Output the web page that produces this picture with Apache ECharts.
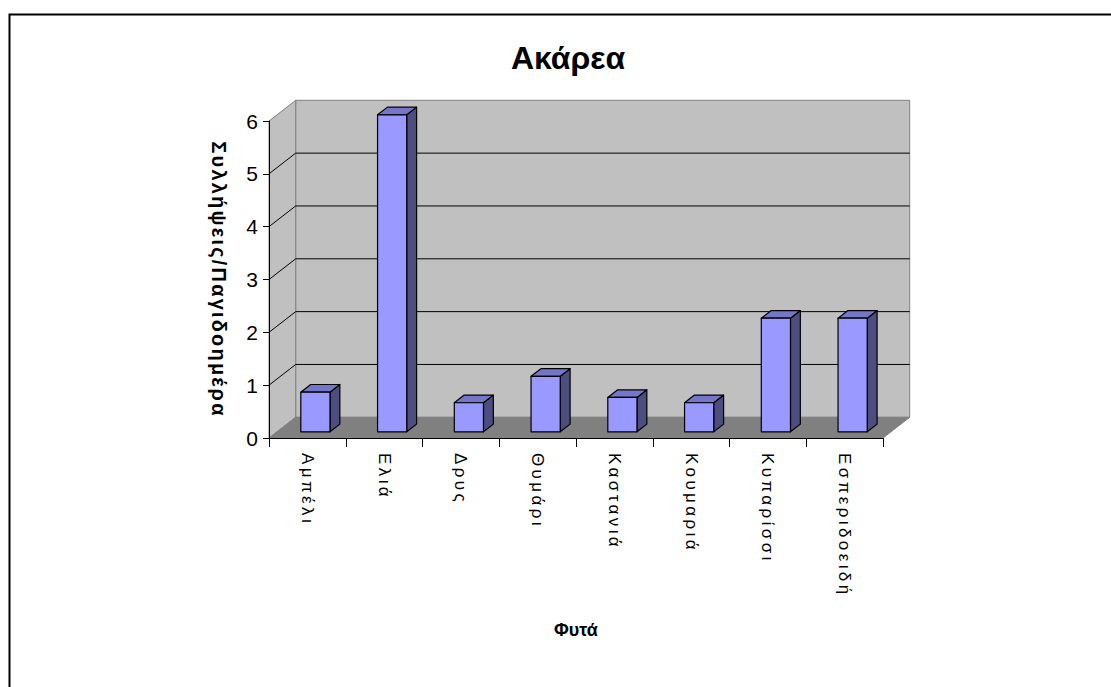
<!DOCTYPE html>
<html>
<head>
<meta charset="utf-8">
<title>Ακάρεα</title>
<script src="https://cdn.jsdelivr.net/npm/echarts@6/dist/echarts.min.js"></script>
<style>
  html, body { margin: 0; padding: 0; background: #ffffff; }
  #chart { width: 1111px; height: 687px; }
  /* wide tracking for the category labels and the value-axis title */
  #chart text[style*="Liberation Sans"]:not([style*="Arimo"]) { letter-spacing: 3.4px; }
  #chart text[style*="Arimo"] { letter-spacing: 2.2px; }
</style>
</head>
<body>
<div id="chart"></div>
<script>
// Plants sampled and mite captures per trap-day
const categories = ['Αμπέλι', 'Ελιά', 'Δρυς', 'Θυμάρι', 'Καστανιά', 'Κουμαριά', 'Κυπαρίσσι', 'Εσπεριδοειδή'];
const values = [0.75, 6, 0.55, 1.05, 0.65, 0.55, 2.15, 2.15];
const yTicks = [0, 1, 2, 3, 4, 5, 6];

// depth of the 3D box in pixels
const DX = 26.7, DY = -20.7;
// bar placement inside the depth (fractions of the box depth)
const BAR_D0 = 0.3, BAR_D1 = 0.67, BAR_W = 0.38;

const chart = echarts.init(document.getElementById('chart'), null, { renderer: 'svg' });

function renderWalls(params, api) {
  const cs = params.coordSys;
  const x0 = cs.x, x1 = cs.x + cs.width;
  const yTop = cs.y, yBot = cs.y + cs.height;
  const children = [];
  // back wall
  children.push({
    type: 'rect',
    shape: { x: x0 + DX, y: yTop + DY, width: cs.width, height: cs.height },
    style: { fill: '#c0c0c0', stroke: '#808080', lineWidth: 1 }
  });
  // left side wall
  children.push({
    type: 'polygon',
    shape: { points: [[x0, yTop], [x0 + DX, yTop + DY], [x0 + DX, yBot + DY], [x0, yBot]] },
    style: { fill: '#c0c0c0', stroke: '#808080', lineWidth: 1 }
  });
  // floor
  children.push({
    type: 'polygon',
    shape: { points: [[x0, yBot], [x0 + DX, yBot + DY], [x1 + DX, yBot + DY], [x1, yBot]] },
    style: { fill: '#808080', stroke: '#808080', lineWidth: 1 }
  });
  // gridlines on back wall and side wall
  yTicks.forEach(function (v) {
    if (v === 0 || v === yTicks[yTicks.length - 1]) return;
    const y = api.coord([0, v])[1];
    children.push({
      type: 'polyline',
      shape: { points: [[x0, y], [x0 + DX, y + DY], [x1 + DX, y + DY]] },
      style: { stroke: '#000000', lineWidth: 1, fill: null }
    });
  });
  return { type: 'group', children: children };
}

function renderBar(params, api) {
  const idx = api.value(0);
  const top = api.coord([idx, api.value(1)]);
  const base = api.coord([idx, 0]);
  const band = api.size([1, 0])[0];
  const w = band * BAR_W;
  const sx = DX * BAR_D0, sy = DY * BAR_D0;
  const bdx = DX * (BAR_D1 - BAR_D0), bdy = DY * (BAR_D1 - BAR_D0);
  const xl = top[0] - w / 2 + sx, xr = xl + w;
  const yt = top[1] + sy, yb = base[1] + sy;
  const edge = { stroke: '#000000', lineWidth: 1.2, lineJoin: 'round' };
  return {
    type: 'group',
    children: [
      {
        type: 'polygon',
        shape: { points: [[xr, yt], [xr + bdx, yt + bdy], [xr + bdx, yb + bdy], [xr, yb]] },
        style: Object.assign({ fill: '#4d4d80' }, edge)
      },
      {
        type: 'polygon',
        shape: { points: [[xl, yt], [xl + bdx, yt + bdy], [xr + bdx, yt + bdy], [xr, yt]] },
        style: Object.assign({ fill: '#7676c8' }, edge)
      },
      {
        type: 'rect',
        shape: { x: xl, y: yt, width: w, height: yb - yt },
        style: Object.assign({ fill: '#9999ff' }, edge)
      }
    ]
  };
}

chart.setOption({
  backgroundColor: '#ffffff',
  animation: false,
  graphic: [
    {
      type: 'rect',
      left: 7, top: 12,
      shape: { width: 1200, height: 800 },
      style: { fill: null, stroke: '#000000', lineWidth: 2 },
      silent: true
    },
    {
      type: 'text',
      x: 568, y: 58,
      style: {
        text: 'Ακάρεα',
        fontFamily: 'Arial',
        fontWeight: 'bold',
        fontSize: 32,
        fill: '#000000',
        align: 'center',
        verticalAlign: 'middle'
      }
    }
  ],
  grid: { left: 269, right: 228, top: 121, bottom: 249 },
  xAxis: {
    type: 'category',
    data: categories,
    z: 5,
    name: 'Φυτά',
    nameLocation: 'middle',
    nameGap: 183,
    nameTextStyle: { fontFamily: 'Arial', fontWeight: 'bold', fontSize: 18, color: '#000000' },
    axisLine: { lineStyle: { color: '#000000', width: 1 } },
    axisTick: { show: true, length: 9, lineStyle: { color: '#000000' } },
    axisLabel: {
      rotate: -90,
      margin: 15,
      interval: 0,
      fontFamily: 'Liberation Sans',
      fontSize: 17,
      color: '#000000'
    },
    splitLine: { show: false }
  },
  yAxis: {
    type: 'value',
    min: 0,
    max: 6,
    interval: 1,
    z: 5,
    name: 'Συλλήψεις/Παγιδοημέρα',
    nameLocation: 'middle',
    nameRotate: -90,
    nameGap: 40,
    nameTextStyle: { fontFamily: 'Arimo, Liberation Sans', fontWeight: 'bold', fontSize: 20, color: '#000000' },
    axisLine: { show: true, lineStyle: { color: '#000000', width: 1 } },
    axisTick: { show: true, length: 6, lineStyle: { color: '#000000' } },
    axisLabel: { margin: 11, fontFamily: 'Arial', fontSize: 21, color: '#000000' },
    splitLine: { show: false }
  },
  series: [
    {
      type: 'custom',
      z: 1,
      silent: true,
      clip: false,
      renderItem: renderWalls,
      data: [[0, 0]]
    },
    {
      type: 'custom',
      z: 2,
      clip: false,
      renderItem: renderBar,
      encode: { x: 0, y: 1 },
      data: values.map(function (v, i) { return [i, v]; })
    }
  ]
});
</script>
</body>
</html>
